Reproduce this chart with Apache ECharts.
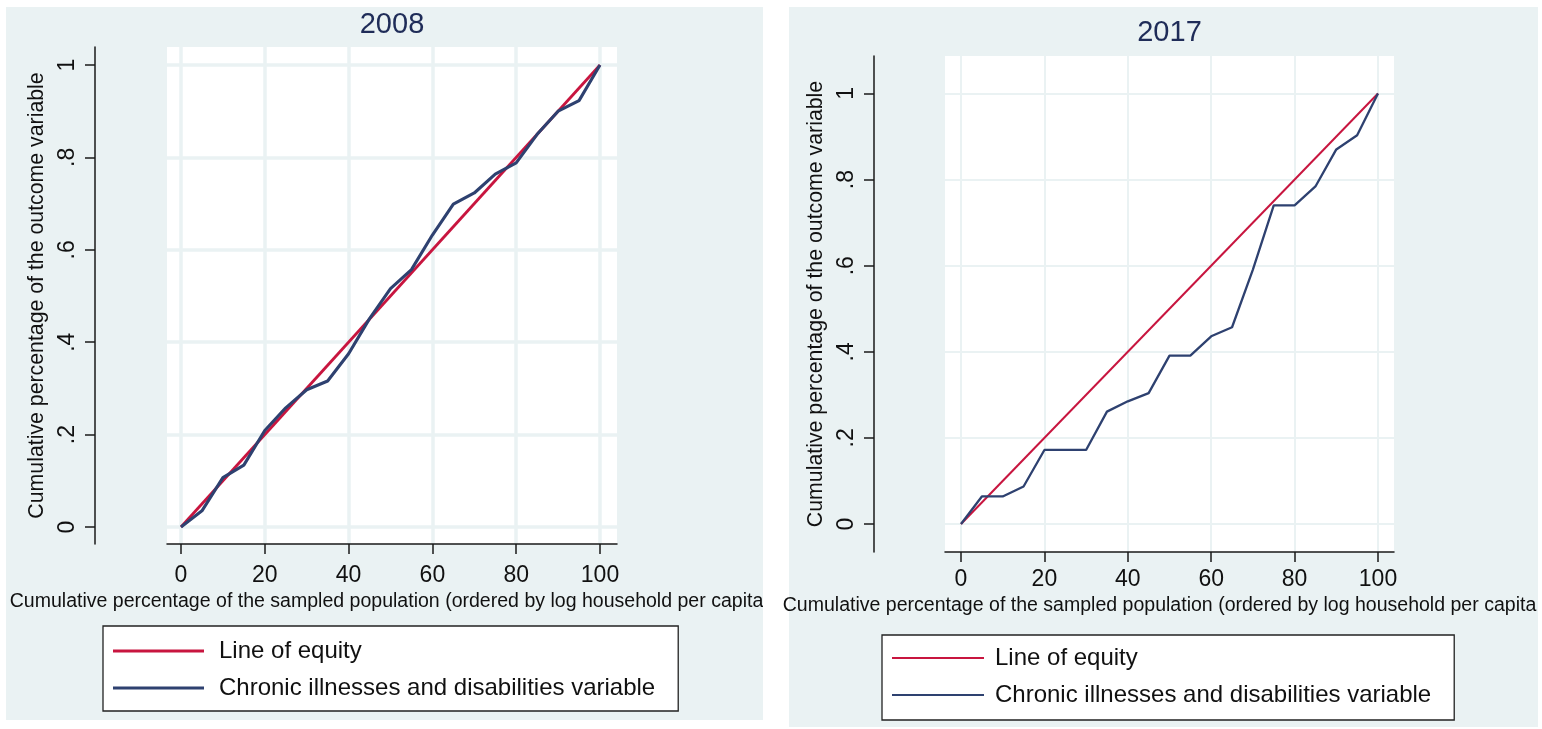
<!DOCTYPE html>
<html><head><meta charset="utf-8">
<script src="https://cdn.jsdelivr.net/npm/echarts@6/dist/echarts.min.js"></script>
<style>
html,body{margin:0;padding:0;background:#fff;width:1542px;height:729px;overflow:hidden;position:relative;}
.bg{position:absolute;background:#eaf2f3;}
.chart{position:absolute;}
#bg2017{left:789px;top:7px;width:749px;height:720px;}
#c2008{left:6px;top:7px;width:757px;height:713px;background:#eaf2f3;}
#c2017{left:770px;top:0px;width:772px;height:729px;}
</style></head><body>
<div id="bg2017" class="bg"></div>
<div id="c2008" class="chart"></div>
<div id="c2017" class="chart"></div>
<script>
// ---- data ----
const popPct = [0, 5, 10, 15, 20, 25, 30, 35, 40, 45, 50, 55, 60, 65, 70, 75, 80, 85, 90, 95, 100];
const chronic2008 = [0, 0.035, 0.107, 0.134, 0.209, 0.258, 0.297, 0.316, 0.375, 0.451, 0.516, 0.557, 0.632, 0.699, 0.723, 0.764, 0.788, 0.850, 0.900, 0.923, 1.0];
const chronic2017 = [0, 0.064, 0.064, 0.087, 0.172, 0.172, 0.172, 0.261, 0.285, 0.304, 0.391, 0.391, 0.436, 0.457, 0.591, 0.740, 0.740, 0.784, 0.870, 0.903, 1.0];
const equityX = [0, 100];
const equityY = [0, 1];
const xTicks = [0, 20, 40, 60, 80, 100];
const yTicks = [0, 0.2, 0.4, 0.6, 0.8, 1];
const yTickLabels = ['0', '.2', '.4', '.6', '.8', '1'];
const seriesNames = ['Line of equity', 'Chronic illnesses and disabilities variable'];
const xTitle = 'Cumulative percentage of the sampled population (ordered by log household per capita';
const yTitle = 'Cumulative percentage of the outcome variable';

// ---- styling ----
const FONT = "'Liberation Sans', Arial, Helvetica, sans-serif";
const BG = '#eaf2f3';
const RED = '#c8153f';
const NAVY = '#2e4170';

function yLabel(v) {
  for (let i = 0; i < yTicks.length; i++) if (Math.abs(yTicks[i] - v) < 1e-6) return yTickLabels[i];
  return '';
}

function buildOption(year, chronic, L) {
  const ox = L.ox, oy = L.oy;
  return {
    animation: false,
    backgroundColor: 'transparent',
    title: {
      text: year, left: L.titleX - ox, top: L.titleTop - oy, textAlign: 'center', padding: 0,
      textStyle: { fontFamily: FONT, fontSize: 29, fontWeight: 'normal', color: '#1f2c58' }
    },
    grid: {
      left: L.gl - ox, top: L.gt - oy, width: L.gw, height: L.gh,
      show: true, backgroundColor: '#ffffff', borderWidth: 0,
      containLabel: false, outerBoundsMode: 'none'
    },
    xAxis: {
      type: 'value', min: L.xmin, max: L.xmax, position: 'bottom',
      axisLine: { show: true, onZero: false, lineStyle: { color: '#1a1a1a', width: 1.5 } },
      axisTick: { show: true, length: 10, customValues: xTicks, lineStyle: { color: '#1a1a1a', width: 1.5 } },
      axisLabel: { customValues: xTicks, margin: L.xLabelMargin, fontSize: 23, color: '#111', fontFamily: FONT },
      splitLine: { show: true, customValues: xTicks, lineStyle: { color: BG, width: L.gridW } },
      name: xTitle, nameLocation: 'middle', nameGap: L.xNameGap,
      nameTextStyle: { fontSize: L.xNameSize, color: '#111', fontFamily: FONT, padding: [0, L.xNameShift, 0, 0] }
    },
    yAxis: {
      type: 'value', min: L.ymin, max: L.ymax, position: 'left', offset: L.yOffset,
      axisLine: { show: true, onZero: false, lineStyle: { color: '#1a1a1a', width: 1.5 } },
      axisTick: { show: true, length: 10, customValues: yTicks, lineStyle: { color: '#1a1a1a', width: 1.5 } },
      axisLabel: { customValues: yTicks, rotate: 90, margin: 16, fontSize: 23, color: '#111', fontFamily: FONT, formatter: yLabel },
      splitLine: { show: true, customValues: yTicks, lineStyle: { color: BG, width: L.gridW } },
      name: yTitle, nameLocation: 'middle', nameGap: L.yNameGap, nameRotate: 90,
      nameTextStyle: { fontSize: 21.3, color: '#111', fontFamily: FONT }
    },
    legend: {
      data: seriesNames, orient: 'vertical', left: L.lgLeft - ox, top: L.lgTop - oy,
      padding: L.lgPad, itemGap: 13, itemWidth: L.lgIconW, itemHeight: L.lineW,
      icon: 'rect', selectedMode: false,
      backgroundColor: '#ffffff', borderColor: '#222', borderWidth: 1.3, borderRadius: 0,
      textStyle: { fontSize: 24, color: '#111', fontFamily: FONT, padding: [0, 0, 0, L.lgTextPad] }
    },
    series: [
      {
        name: seriesNames[0], type: 'line', symbol: 'none',
        data: equityX.map((x, i) => [x, equityY[i]]),
        lineStyle: { color: RED, width: L.lineW }, itemStyle: { color: RED }
      },
      {
        name: seriesNames[1], type: 'line', symbol: 'none',
        data: popPct.map((x, i) => [x, chronic[i]]),
        lineStyle: { color: NAVY, width: L.lineW + 0.3 }, itemStyle: { color: NAVY }
      }
    ]
  };
}

// layouts in page coordinates; ox/oy = chart container origin
const layout2008 = {
  ox: 6, oy: 7,
  titleX: 392, titleTop: 10,
  gl: 167, gt: 47, gw: 450, gh: 497,
  xmin: -3.34, xmax: 104.06, ymin: -0.0368, ymax: 1.039,
  xLabelMargin: 20, xNameGap: 46, xNameSize: 19.55, xNameShift: 11,
  yOffset: 72, yNameGap: 39, gridW: 3.5,
  lgLeft: 103, lgTop: 626, lgPad: [13, 23, 11, 10], lgIconW: 91, lgTextPad: 10, lineW: 2.8
};
const layout2017 = {
  ox: 770, oy: 0,
  titleX: 1169.5, titleTop: 18,
  gl: 945, gt: 56, gw: 449, gh: 496,
  xmin: -3.84, xmax: 103.84, ymin: -0.065, ymax: 1.087,
  xLabelMargin: 16, xNameGap: 41, xNameSize: 19.55, xNameShift: 20,
  yOffset: 71, yNameGap: 40, gridW: 2,
  lgLeft: 882, lgTop: 635, lgPad: [11, 23, 13, 10], lgIconW: 92, lgTextPad: 6, lineW: 2
};

echarts.init(document.getElementById('c2008')).setOption(buildOption('2008', chronic2008, layout2008));
echarts.init(document.getElementById('c2017')).setOption(buildOption('2017', chronic2017, layout2017));
</script>
</body></html>
